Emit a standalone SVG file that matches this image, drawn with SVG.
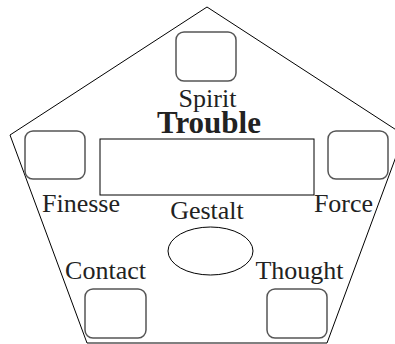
<svg xmlns="http://www.w3.org/2000/svg" width="395" height="344" viewBox="0 0 395 344">
<style>
.box{fill:#fff;stroke:#555;stroke-width:1.5}
.lbl{font-family:"Liberation Serif",serif;font-size:26px;fill:#222;text-anchor:middle}
.ttl{font-family:"Liberation Serif",serif;font-size:31px;font-weight:bold;fill:#222;text-anchor:middle}
</style>
<rect width="395" height="344" fill="#fff"/>
<g id="frame">
<polygon points="207,7 404,135 327,343 87,343 10,135" fill="none" stroke="#000" stroke-width="1"/>
</g>
<g id="connectors"></g>
<g id="spirit">
<rect class="box" x="176" y="32" width="60" height="49" rx="8"/>
<text class="lbl" x="207.5" y="107">Spirit</text>
</g>
<g id="trouble">
<text class="ttl" x="209" y="133">Trouble</text>
<rect x="100" y="139" width="214" height="56" fill="#fff" stroke="#000" stroke-width="1"/>
</g>
<g id="finesse">
<rect class="box" x="25" y="131" width="60" height="48" rx="8"/>
<text class="lbl" x="81" y="212">Finesse</text>
</g>
<g id="force">
<rect class="box" x="328" y="131" width="60" height="48" rx="8"/>
<text class="lbl" x="343.5" y="212">Force</text>
</g>
<g id="gestalt">
<ellipse cx="210.5" cy="251" rx="42.5" ry="24" fill="#fff" stroke="#000" stroke-width="1"/>
<text class="lbl" x="207" y="219">Gestalt</text>
</g>
<g id="contact">
<rect class="box" x="85" y="289" width="61" height="49" rx="8"/>
<text class="lbl" x="105.5" y="279">Contact</text>
</g>
<g id="thought">
<rect class="box" x="267" y="289" width="60" height="49" rx="8"/>
<text class="lbl" x="299.5" y="279">Thought</text>
</g>
</svg>
